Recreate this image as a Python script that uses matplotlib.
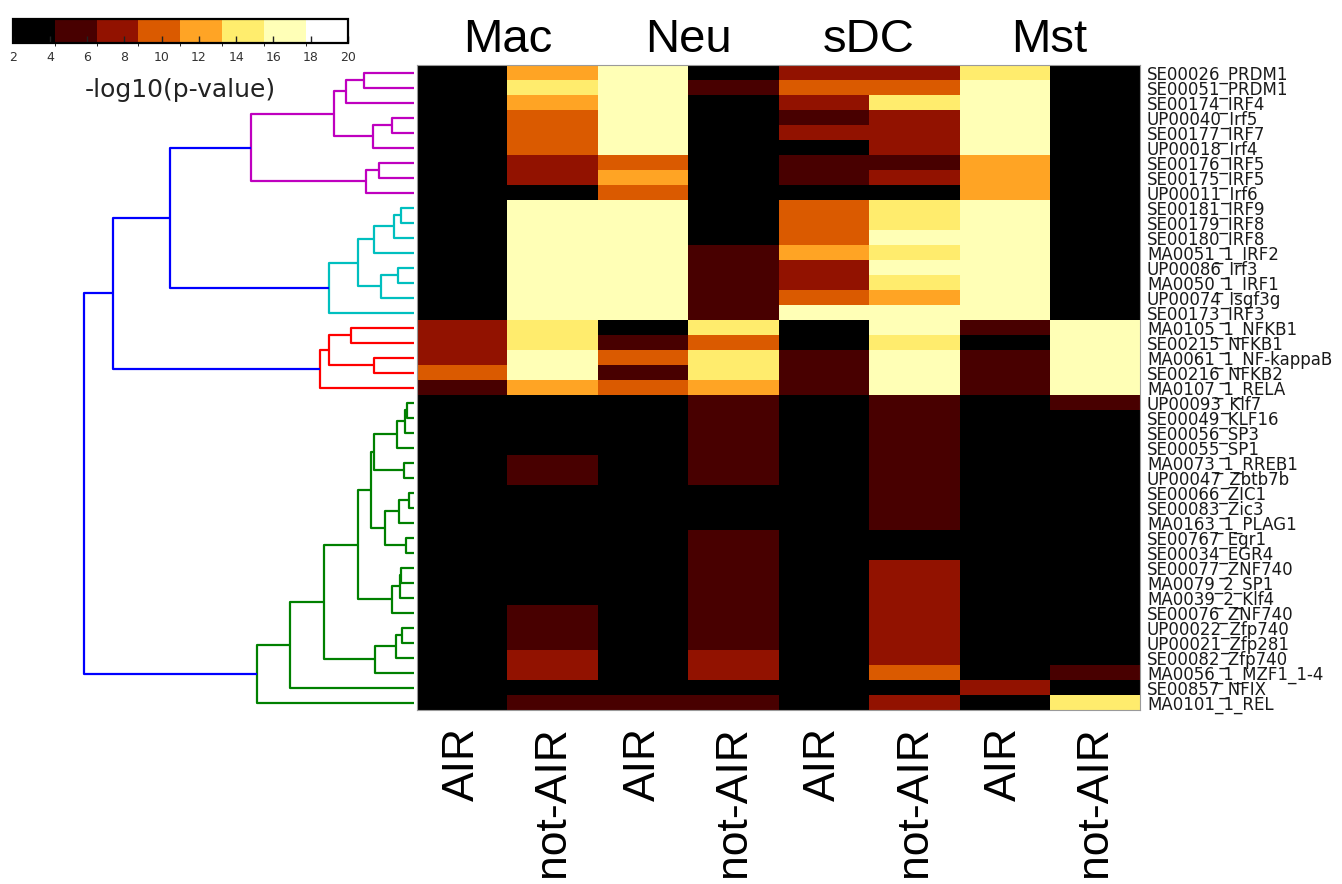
import numpy as np
import matplotlib
matplotlib.use("Agg")
import matplotlib.pyplot as plt
import matplotlib.transforms as mtransforms
from matplotlib.colors import BoundaryNorm, ListedColormap
from matplotlib.cm import ScalarMappable

# ---------------- data ----------------
motifs = [
    "SE00026_PRDM1", "SE00051_PRDM1", "SE00174_IRF4", "UP00040_Irf5", "SE00177_IRF7",
    "UP00018_Irf4", "SE00176_IRF5", "SE00175_IRF5", "UP00011_Irf6", "SE00181_IRF9",
    "SE00179_IRF8", "SE00180_IRF8", "MA0051_1_IRF2", "UP00086_Irf3", "MA0050_1_IRF1",
    "UP00074_Isgf3g", "SE00173_IRF3", "MA0105_1_NFKB1", "SE00215_NFKB1",
    "MA0061_1_NF-kappaB", "SE00216_NFKB2", "MA0107_1_RELA", "UP00093_Klf7",
    "SE00049_KLF16", "SE00056_SP3", "SE00055_SP1", "MA0073_1_RREB1", "UP00047_Zbtb7b",
    "SE00066_ZIC1", "SE00083_Zic3", "MA0163_1_PLAG1", "SE00767_Egr1", "SE00034_EGR4",
    "SE00077_ZNF740", "MA0079_2_SP1", "MA0039_2_Klf4", "SE00076_ZNF740",
    "UP00022_Zfp740", "UP00021_Zfp281", "SE00082_Zfp740", "MA0056_1_MZF1_1-4",
    "SE00857_NFIX", "MA0101_1_REL",
]
cell_types = ["Mac", "Neu", "sDC", "Mst"]
conditions = ["AIR", "not-AIR", "AIR", "not-AIR", "AIR", "not-AIR", "AIR", "not-AIR"]

# -log10(p-value) per motif (top to bottom), one list per column
mac_air = [3, 3, 3, 3, 3, 3, 3, 3, 3, 3, 3, 3, 3, 3, 3, 3, 3,
           7.5, 7.5, 7.5, 10, 5.5,
           3, 3, 3, 3, 3, 3, 3, 3, 3, 3, 3, 3, 3, 3, 3, 3, 3, 3, 3, 3, 3]
mac_not = [12, 14.5, 12, 10, 10, 10, 7.5, 7.5, 3,
           16.5, 16.5, 16.5, 16.5, 16.5, 16.5, 16.5, 16.5,
           14.5, 14.5, 16.5, 16.5, 12,
           3, 3, 3, 3, 5.5, 5.5, 3, 3, 3, 3, 3, 3, 3, 3,
           5.5, 5.5, 5.5, 7.5, 7.5, 3, 5.5]
neu_air = [16.5, 16.5, 16.5, 16.5, 16.5, 16.5, 10, 12, 10,
           16.5, 16.5, 16.5, 16.5, 16.5, 16.5, 16.5, 16.5,
           3, 5.5, 10, 5.5, 10,
           3, 3, 3, 3, 3, 3, 3, 3, 3, 3, 3, 3, 3, 3, 3, 3, 3, 3, 3, 3, 5.5]
neu_not = [3, 5.5, 3, 3, 3, 3, 3, 3, 3, 3, 3, 3,
           5.5, 5.5, 5.5, 5.5, 5.5,
           14.5, 10, 14.5, 14.5, 12,
           5.5, 5.5, 5.5, 5.5, 5.5, 5.5, 3, 3, 3,
           5.5, 5.5, 5.5, 5.5, 5.5, 5.5, 5.5, 5.5, 7.5, 7.5, 3, 5.5]
sdc_air = [7.5, 10, 7.5, 5.5, 7.5, 3, 5.5, 5.5, 3,
           10, 10, 10, 12, 7.5, 7.5, 10, 16.5,
           3, 3, 5.5, 5.5, 5.5,
           3, 3, 3, 3, 3, 3, 3, 3, 3, 3, 3, 3, 3, 3, 3, 3, 3, 3, 3, 3, 3]
sdc_not = [7.5, 10, 14.5, 7.5, 7.5, 7.5, 5.5, 7.5, 3,
           14.5, 14.5, 16.5, 14.5, 16.5, 14.5, 12, 16.5,
           16.5, 14.5, 16.5, 16.5, 16.5,
           5.5, 5.5, 5.5, 5.5, 5.5, 5.5, 5.5, 5.5, 5.5, 3, 3,
           7.5, 7.5, 7.5, 7.5, 7.5, 7.5, 7.5, 10, 3, 7.5]
mst_air = [14.5, 16.5, 16.5, 16.5, 16.5, 16.5, 12, 12, 12,
           16.5, 16.5, 16.5, 16.5, 16.5, 16.5, 16.5, 16.5,
           5.5, 3, 5.5, 5.5, 5.5,
           3, 3, 3, 3, 3, 3, 3, 3, 3, 3, 3, 3, 3, 3, 3, 3, 3, 3, 3, 7.5, 3]
mst_not = [3, 3, 3, 3, 3, 3, 3, 3, 3, 3, 3, 3, 3, 3, 3, 3, 3,
           16.5, 16.5, 16.5, 16.5, 16.5,
           5.5, 3, 3, 3, 3, 3, 3, 3, 3, 3, 3, 3, 3, 3, 3, 3, 3, 3, 5.5, 3, 14.5]

# hierarchical clustering of motifs: (child_a, child_b, distance); leaves 0..42, merges 43..
linkage = [
    (0, 1, 0.149), (43, 2, 0.205), (3, 4, 0.065), (45, 5, 0.124), (44, 46, 0.242),
    (6, 7, 0.106), (48, 8, 0.143), (47, 49, 0.494),
    (9, 10, 0.037), (51, 11, 0.060), (52, 12, 0.119), (13, 14, 0.048), (54, 15, 0.100),
    (53, 55, 0.168), (56, 16, 0.258),
    (50, 57, 0.741),
    (17, 18, 0.190), (19, 20, 0.121), (59, 60, 0.258), (61, 21, 0.285),
    (58, 62, 0.912),
    (22, 23, 0.019), (64, 24, 0.027), (65, 25, 0.050), (26, 27, 0.030), (66, 67, 0.121),
    (28, 29, 0.014), (69, 30, 0.045), (31, 32, 0.024), (70, 71, 0.088), (68, 72, 0.129),
    (33, 34, 0.037), (74, 35, 0.042), (75, 36, 0.065), (73, 76, 0.168),
    (37, 38, 0.034), (78, 39, 0.053), (79, 40, 0.118), (77, 80, 0.271),
    (81, 41, 0.374), (82, 42, 0.476),
    (63, 83, 1.000),
]
cluster_colors = {50: (0.75, 0, 0.75), 57: (0, 0.75, 0.75), 62: (1, 0, 0), 83: (0, 0.5, 0)}
above_color = (0, 0, 1)
color_threshold = 0.7

# ---------------- figure ----------------
W, H = 1342, 884
fig = plt.figure(figsize=(W / 100, H / 100), dpi=100)

def px_axes(x0, y0, x1, y1):
    return fig.add_axes([x0 / W, 1 - y1 / H, (x1 - x0) / W, (y1 - y0) / H])

hm_x0, hm_y0, hm_x1, hm_y1 = 417, 65, 1140, 710

# heatmap
data = np.column_stack([mac_air, mac_not, neu_air, neu_not, sdc_air, sdc_not, mst_air, mst_not])
bounds = np.linspace(2, 20, 9)
cmap = ListedColormap(plt.get_cmap("afmhot")(np.linspace(0, 1, 8)))
norm = BoundaryNorm(bounds, cmap.N)

ax = px_axes(hm_x0, hm_y0, hm_x1, hm_y1)
ax.imshow(data, cmap=cmap, norm=norm, aspect="auto", interpolation="nearest")
for s in ax.spines.values():
    s.set_color("#9a9a9a")
    s.set_linewidth(0.8)
ax.yaxis.tick_right()
ax.set_yticks(range(len(motifs)))
ax.set_yticklabels(motifs, fontsize=12, color="#1a1a1a", family="DejaVu Sans")
ax.set_xticks(range(len(conditions)))
ax.set_xticklabels(conditions, rotation=90, fontsize=32, family="Liberation Sans", color="black")
ax.tick_params(axis="y", length=0, pad=5)
ax.tick_params(axis="x", length=0, pad=12)

trans = mtransforms.blended_transform_factory(ax.transData, ax.transAxes)
for i, ct in enumerate(cell_types):
    ax.text(2 * i + 0.5, 1 + 13 / (hm_y1 - hm_y0), ct, transform=trans, ha="center",
            va="baseline", fontsize=34, family="Liberation Sans", color="black")

# dendrogram
n = len(motifs)
L = 1.05
dend_right = 413.5
dend_left = dend_right - 329.2 * L
axd = px_axes(dend_left, hm_y0, dend_right, hm_y1)
axd.set_xlim(L, 0)
axd.set_ylim(n - 0.5, -0.5)
axd.axis("off")

pos = {i: float(i) for i in range(n)}
height = {i: 0.0 for i in range(n)}
for k, (a, b, h) in enumerate(linkage):
    nid = n + k
    pos[nid] = (pos[a] + pos[b]) / 2
    height[nid] = h

colors = {}
root = n + len(linkage) - 1
colors[root] = above_color
for k in range(len(linkage) - 1, -1, -1):
    nid = n + k
    for c in linkage[k][:2]:
        if c >= n:
            if height[c] >= color_threshold:
                colors[c] = above_color
            elif c in cluster_colors:
                colors[c] = cluster_colors[c]
            else:
                colors[c] = colors[nid]

for k, (a, b, h) in enumerate(linkage):
    nid = n + k
    xs = [height[a], h, h, height[b]]
    ys = [pos[a], pos[a], pos[b], pos[b]]
    axd.plot(xs, ys, color=colors[nid], lw=1.6, clip_on=False, solid_capstyle="butt")

# colorbar
cax = px_axes(12.7, 19, 348, 43)
cb = fig.colorbar(ScalarMappable(norm=norm, cmap=cmap), cax=cax, orientation="horizontal",
                  ticks=np.arange(2, 21, 2))
cb.outline.set_linewidth(1.6)
cb.outline.set_edgecolor("black")
cax.tick_params(axis="x", direction="in", length=5, width=1, color="#222222",
                labelsize=9, labelcolor="#333333", pad=6)
cax.set_xticklabels([str(v) for v in range(2, 21, 2)])
cax.set_xlabel("-log10(p-value)", fontsize=18, color="#222222", labelpad=10)

fig.savefig("out.png", dpi=100)
